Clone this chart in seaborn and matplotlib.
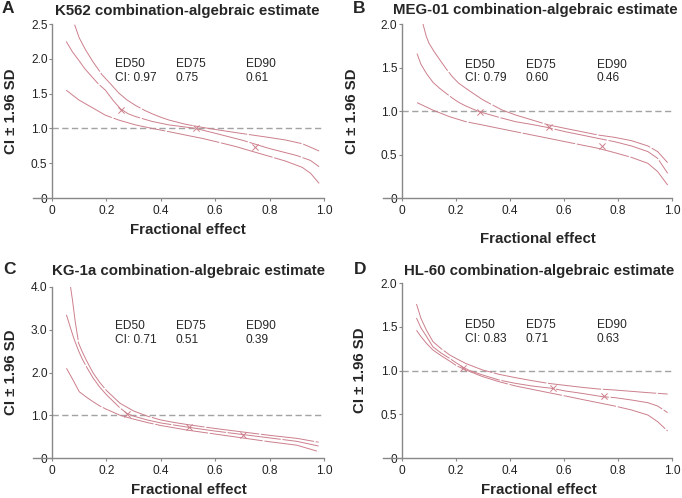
import matplotlib
matplotlib.use("Agg")
import matplotlib.pyplot as plt
import seaborn as sns

# %%
# panel A - K562
a_up_x = [0.083, 0.1, 0.123, 0.15, 0.184, 0.215, 0.245, 0.275, 0.307, 0.34, 0.368, 0.4, 0.43, 0.49, 0.552, 0.613, 0.675, 0.736, 0.798, 0.859, 0.92, 0.95, 0.982]
a_up = [2.49, 2.3, 2.13, 1.96, 1.77, 1.64, 1.51, 1.41, 1.33, 1.26, 1.21, 1.16, 1.12, 1.06, 1.015, 0.977, 0.94, 0.905, 0.87, 0.833, 0.78, 0.73, 0.675]
a_mid_x = [0.052, 0.075, 0.098, 0.12, 0.147, 0.17, 0.196, 0.225, 0.252, 0.28, 0.307, 0.368, 0.43, 0.49, 0.528, 0.6, 0.65, 0.7, 0.75, 0.8, 0.85, 0.9, 0.95, 0.982]
a_mid = [2.25, 2.1, 1.98, 1.86, 1.74, 1.64, 1.55, 1.4, 1.28, 1.21, 1.17, 1.1, 1.05, 1.02, 1.0, 0.93, 0.88, 0.83, 0.77, 0.71, 0.66, 0.61, 0.54, 0.45]
a_low_x = [0.052, 0.098, 0.147, 0.196, 0.245, 0.307, 0.368, 0.43, 0.49, 0.552, 0.613, 0.675, 0.736, 0.798, 0.859, 0.92, 0.951, 0.982]
a_low = [1.55, 1.41, 1.3, 1.19, 1.12, 1.05, 1.0, 0.953, 0.905, 0.857, 0.8, 0.74, 0.67, 0.6, 0.53, 0.44, 0.354, 0.21]
a_pts_x = [0.255, 0.53, 0.746]
a_pts_y = [1.265, 1.0, 0.74]
a_ci = ["0.97", "0.75", "0.61"]

# panel B - MEG-01
b_up_x = [0.078, 0.09, 0.1, 0.12, 0.14, 0.165, 0.188, 0.21, 0.237, 0.27, 0.299, 0.335, 0.372, 0.421, 0.482, 0.543, 0.605, 0.666, 0.727, 0.788, 0.85, 0.911, 0.947, 0.984]
b_up = [2.0, 1.86, 1.78, 1.68, 1.59, 1.48, 1.39, 1.32, 1.26, 1.19, 1.13, 1.07, 1.01, 0.954, 0.897, 0.84, 0.8, 0.762, 0.724, 0.697, 0.659, 0.598, 0.533, 0.406]
b_mid_x = [0.056, 0.07, 0.091, 0.115, 0.14, 0.165, 0.188, 0.21, 0.237, 0.286, 0.36, 0.421, 0.482, 0.537, 0.605, 0.666, 0.727, 0.788, 0.85, 0.911, 0.947, 0.984]
b_mid = [1.66, 1.54, 1.43, 1.33, 1.26, 1.2, 1.146, 1.1, 1.057, 0.992, 0.927, 0.877, 0.845, 0.812, 0.762, 0.724, 0.685, 0.647, 0.598, 0.533, 0.456, 0.284]
b_low_x = [0.056, 0.115, 0.176, 0.237, 0.299, 0.36, 0.421, 0.482, 0.543, 0.605, 0.666, 0.727, 0.788, 0.85, 0.911, 0.947, 0.984]
b_low = [1.096, 1.01, 0.935, 0.877, 0.839, 0.8, 0.762, 0.724, 0.686, 0.647, 0.609, 0.571, 0.521, 0.467, 0.398, 0.303, 0.149]
b_pts_x = [0.289, 0.543, 0.742]
b_pts_y = [0.99, 0.82, 0.6]
b_ci = ["0.79", "0.60", "0.46"]

# panel C - KG-1a
c_up_x = [0.068, 0.075, 0.085, 0.098, 0.11, 0.125, 0.15, 0.175, 0.2, 0.25, 0.3, 0.35, 0.4, 0.45, 0.5, 0.6, 0.7, 0.8, 0.9, 0.98]
c_up = [4.0, 3.7, 3.2, 2.68, 2.5, 2.3, 2.0, 1.77, 1.58, 1.28, 1.1, 0.98, 0.89, 0.83, 0.78, 0.69, 0.61, 0.53, 0.46, 0.37]
c_mid_x = [0.053, 0.065, 0.08, 0.098, 0.11, 0.125, 0.15, 0.175, 0.2, 0.25, 0.276, 0.3, 0.35, 0.4, 0.5, 0.6, 0.7, 0.8, 0.9, 0.98]
c_mid = [3.35, 3.1, 2.8, 2.5, 2.33, 2.15, 1.88, 1.66, 1.48, 1.17, 1.04, 0.98, 0.89, 0.82, 0.72, 0.63, 0.55, 0.47, 0.39, 0.28]
c_low_x = [0.053, 0.075, 0.1, 0.125, 0.15, 0.175, 0.2, 0.25, 0.3, 0.35, 0.4, 0.5, 0.6, 0.7, 0.8, 0.9, 0.98]
c_low = [2.1, 1.85, 1.55, 1.43, 1.32, 1.22, 1.14, 1.0, 0.91, 0.83, 0.76, 0.65, 0.56, 0.47, 0.38, 0.3, 0.15]
c_pts_x = [0.275, 0.505, 0.702]
c_pts_y = [1.035, 0.73, 0.545]
c_ci = ["0.71", "0.51", "0.39"]

# panel D - HL-60
d_up_x = [0.054, 0.07, 0.091, 0.115, 0.145, 0.176, 0.205, 0.237, 0.27, 0.299, 0.36, 0.421, 0.482, 0.543, 0.605, 0.666, 0.727, 0.788, 0.85, 0.911, 0.984]
d_up = [1.76, 1.6, 1.46, 1.33, 1.25, 1.18, 1.13, 1.08, 1.04, 1.006, 0.956, 0.918, 0.884, 0.853, 0.83, 0.808, 0.789, 0.777, 0.762, 0.747, 0.731]
d_mid_x = [0.054, 0.07, 0.091, 0.115, 0.145, 0.176, 0.2, 0.225, 0.25, 0.299, 0.36, 0.421, 0.482, 0.556, 0.605, 0.666, 0.745, 0.788, 0.85, 0.911, 0.947, 0.984]
d_mid = [1.6, 1.49, 1.39, 1.27, 1.2, 1.14, 1.09, 1.04, 1.0, 0.949, 0.891, 0.853, 0.823, 0.796, 0.766, 0.739, 0.7, 0.69, 0.663, 0.632, 0.594, 0.518]
d_low_x = [0.054, 0.07, 0.091, 0.115, 0.145, 0.176, 0.205, 0.237, 0.299, 0.36, 0.421, 0.482, 0.543, 0.605, 0.666, 0.727, 0.788, 0.85, 0.911, 0.947, 0.984]
d_low = [1.46, 1.39, 1.31, 1.234, 1.17, 1.109, 1.05, 1.006, 0.93, 0.872, 0.823, 0.785, 0.747, 0.709, 0.67, 0.632, 0.594, 0.549, 0.491, 0.415, 0.309]
d_pts_x = [0.228, 0.56, 0.75]
d_pts_y = [1.03, 0.8, 0.705]
d_ci = ["0.83", "0.71", "0.63"]

ed_labels = ["ED50", "ED75", "ED90"]
x_ticks = [0, 0.2, 0.4, 0.6, 0.8, 1.0]
x_ticklabels = ["0", "0.2", "0.4", "0.6", "0.8", "1.0"]

# %%
sns.set_style("ticks")
plt.rcParams["font.family"] = ["Liberation Sans", "DejaVu Sans"]

LINE = "#cc7f8c"
GRID = "#a3a3a3"
SPINE = "#888888"

fig = plt.figure(figsize=(6.82, 4.98), dpi=100)

panels = [
    dict(letter="A", title="K562 combination-algebraic estimate",
         rect=[0.0484, 0.6024, 0.4267, 0.3494], ymax=2.5,
         yticks=[0, 0.5, 1.0, 1.5, 2.0, 2.5],
         curves=[(a_up_x, a_up), (a_mid_x, a_mid), (a_low_x, a_low)],
         pts=(a_pts_x, a_pts_y), ci=a_ci, ann_x=[0.233, 0.455, 0.712], ann_y=(0.768, 0.688),
         title_xy=(0.531, 1.052), ylab_x=-0.052, xlab=(0.533, -0.144), letter_xy=(2, 13)),
    dict(letter="B", title="MEG-01 combination-algebraic estimate",
         rect=[0.5616, 0.6024, 0.4237, 0.3494], ymax=2.0,
         yticks=[0, 0.5, 1.0, 1.5, 2.0],
         curves=[(b_up_x, b_up), (b_mid_x, b_mid), (b_low_x, b_low)],
         pts=(b_pts_x, b_pts_y), ci=b_ci, ann_x=[0.234, 0.458, 0.721], ann_y=(0.762, 0.688),
         title_xy=(0.526, 1.057), ylab_x=-0.083, xlab=(0.536, -0.195), letter_xy=(353, 13)),
    dict(letter="C", title="KG-1a combination-algebraic estimate",
         rect=[0.0484, 0.0803, 0.4267, 0.3434], ymax=4.0,
         yticks=[0, 1.0, 2.0, 3.0, 4.0],
         curves=[(c_up_x, c_up), (c_mid_x, c_mid), (c_low_x, c_low)],
         pts=(c_pts_x, c_pts_y), ci=c_ci, ann_x=[0.233, 0.455, 0.712], ann_y=(0.773, 0.691),
         title_xy=(0.533, 1.07), ylab_x=-0.052, xlab=(0.536, -0.146), letter_xy=(3, 274)),
    dict(letter="D", title="HL-60 combination-algebraic estimate",
         rect=[0.5616, 0.0803, 0.4237, 0.3514], ymax=2.0,
         yticks=[0, 0.5, 1.0, 1.5, 2.0],
         curves=[(d_up_x, d_up), (d_mid_x, d_mid), (d_low_x, d_low)],
         pts=(d_pts_x, d_pts_y), ci=d_ci, ann_x=[0.234, 0.458, 0.721], ann_y=(0.758, 0.678),
         title_xy=(0.54, 1.046), ylab_x=-0.055, xlab=(0.54, -0.143), letter_xy=(354, 274)),
]

for p in panels:
    ax = fig.add_axes(p["rect"])

    # reference line at CI = 1
    ax.hlines(1.0, 0, 1.0, colors=GRID, linewidth=1.0, linestyles=(0, (4.5, 2.5)), zorder=1)

    for xs, ys in p["curves"]:
        sns.lineplot(x=xs, y=ys, ax=ax, color=LINE, linewidth=0.7,
                     linestyle=(0, (55, 1.8)), zorder=2)

    sns.scatterplot(x=p["pts"][0], y=p["pts"][1], ax=ax, marker="x", s=20,
                    color=LINE, linewidth=0.7, zorder=3)

    trans = ax.get_xaxis_transform()
    for xa, ed, ci in zip(p["ann_x"], ed_labels, p["ci"]):
        ax.text(xa, p["ann_y"][0], ed, transform=trans, ha="left", va="center", fontsize=8.6)
        second = "CI: " + ci if ed == "ED50" else ci
        ax.text(xa, p["ann_y"][1], second, transform=trans, ha="left", va="center", fontsize=8.6)

    ax.set_xlim(-0.07, 1.0)
    ax.set_ylim(0, p["ymax"])
    ax.set_xticks(x_ticks)
    ax.set_xticklabels(x_ticklabels)
    ax.set_yticks(p["yticks"])
    ax.set_yticklabels(["0" if v == 0 else f"{v:.1f}" for v in p["yticks"]])

    sns.despine(ax=ax)
    ax.spines["left"].set_position(("data", 0))
    for s in ("left", "bottom"):
        ax.spines[s].set_color(SPINE)
        ax.spines[s].set_linewidth(1.0)
    ax.tick_params(axis="both", direction="out", length=2.5, width=0.8, color=SPINE,
                   labelsize=8.6, labelcolor="#222222")
    ax.tick_params(axis="y", pad=0.8)
    ax.tick_params(axis="x", pad=2.2)

    ax.set_xlabel("Fractional effect", fontsize=10.8, fontweight="bold")
    ax.set_ylabel("CI ± 1.96 SD", fontsize=10.8, fontweight="bold")
    ax.xaxis.set_label_coords(*p["xlab"])
    ax.yaxis.set_label_coords(p["ylab_x"], 0.5)

    ax.text(p["title_xy"][0], p["title_xy"][1], p["title"], transform=ax.transAxes,
            ha="center", va="baseline", fontsize=10.8, fontweight="bold")

    lx, ly = p["letter_xy"]
    fig.text(lx / 682, 1 - ly / 498, p["letter"], ha="left", va="baseline",
             fontsize=12.5, fontweight="bold")

fig.savefig("out.png", dpi=100)
